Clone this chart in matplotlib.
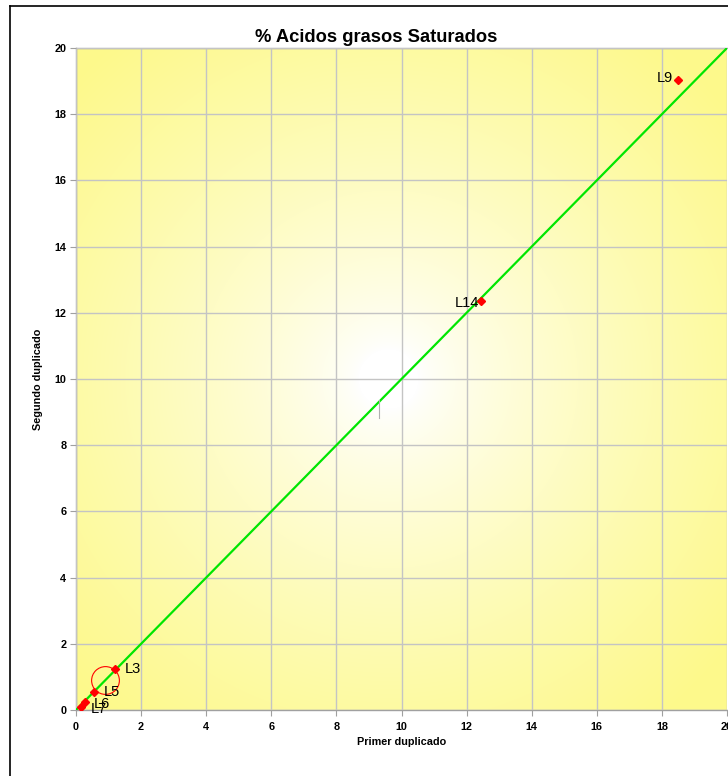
import numpy as np
import matplotlib
matplotlib.use("Agg")
import matplotlib.pyplot as plt
from matplotlib.lines import Line2D

plt.rcParams['font.family'] = ['Liberation Sans', 'DejaVu Sans']

# Sample duplicates: first vs second determination
labels = ["L9", "L14", "L3", "L5", "L6", "L7"]
primer = [18.49, 12.43, 1.21, 0.54, 0.28, 0.15]
segundo = [19.04, 12.36, 1.25, 0.53, 0.23, 0.10]

# highlighted region (circle) and small gray segment
circle_x, circle_y = [0.89], [0.90]
seg_x = [9.32, 9.32]
seg_y = [8.82, 9.37]

# identity line
ident = [0, 20]

x_ticks = list(range(0, 21, 2))
y_ticks = list(range(0, 21, 2))

W, H = 728, 776
fig = plt.figure(figsize=(W / 100, H / 100), dpi=100)
fig.patch.set_facecolor('white')

ax = fig.add_axes([76 / W, (H - 710) / H, 651 / W, 662 / H])
ax.set_xlim(0, 20)
ax.set_ylim(0, 20)

# radial white-to-yellow background
nx, ny = 651, 662
xx, yy = np.meshgrid(np.arange(nx), np.arange(ny))
cx, cy = 0.48 * nx, 0.50 * ny
r = np.sqrt((xx - cx) ** 2 + (yy - cy) ** 2)
t = np.clip((r - 30) / 400, 0, 1) ** 0.75
white = np.array([255, 255, 255]) / 255
yellow = np.array([253, 249, 140]) / 255
img = white[None, None, :] * (1 - t[..., None]) + yellow[None, None, :] * t[..., None]
ax.imshow(img, extent=[0, 20, 0, 20], origin='upper', aspect='auto', zorder=0)

ax.set_xticks(x_ticks)
ax.set_yticks(y_ticks)
ax.grid(True, color='#C4C4C4', linewidth=1.0, zorder=1)
ax.set_axisbelow(False)
for s in ax.spines.values():
    s.set_color('#A0A0A0')
    s.set_linewidth(1.0)
ax.spines['right'].set_visible(False)
ax.tick_params(axis='both', direction='out', length=4, width=0.8, color='#A0A0A0',
               pad=3, labelsize=7.8)
for lbl in ax.get_xticklabels() + ax.get_yticklabels():
    lbl.set_fontweight('bold')
ax.tick_params(axis='x', pad=5)

ax.plot(ident, ident, color='#00E600', linewidth=1.6, zorder=3)
ax.plot(seg_x, seg_y, color='#B0B0B0', linewidth=0.8, zorder=3)
ax.plot(primer, segundo, linestyle='none', marker='D', markersize=4.2,
        color='#FF0000', zorder=4)
ax.plot(circle_x, circle_y, linestyle='none', marker='o', markersize=20,
        markerfacecolor='none', markeredgecolor='#FF0000', markeredgewidth=0.8, zorder=4)

# label offsets in points
offsets = {"L9": (-3.5, 1.5, 'right'), "L14": (-1, -1.5, 'right'),
           "L3": (7, 0, 'left'), "L5": (7, 0, 'left'),
           "L6": (6, -1, 'left'), "L7": (7, -2, 'left')}
for lab, xv, yv in zip(labels, primer, segundo):
    dx, dy, ha = offsets[lab]
    ax.annotate(lab, (xv, yv), xytext=(dx, dy), textcoords='offset points',
                ha=ha, va='center', fontsize=10.5, color='black', zorder=5)

ax.set_xlabel("Primer duplicado", fontsize=7.8, fontweight='bold', labelpad=3)
ax.set_ylabel("Segundo duplicado", fontsize=7.8, fontweight='bold', labelpad=8)

fig.text(376 / W, 1 - 38 / H, "% Acidos grasos Saturados", ha='center', va='center',
         fontsize=13.2, fontweight='bold')

# outer chart frame
fig.add_artist(Line2D([9.5 / W, 9.5 / W], [0, 1 - 6 / H], color='black', linewidth=1.2,
                      transform=fig.transFigure))
fig.add_artist(Line2D([9.5 / W, 1], [1 - 6 / H, 1 - 6 / H], color='black', linewidth=1.2,
                      transform=fig.transFigure))

fig.savefig("out.png", dpi=100)
